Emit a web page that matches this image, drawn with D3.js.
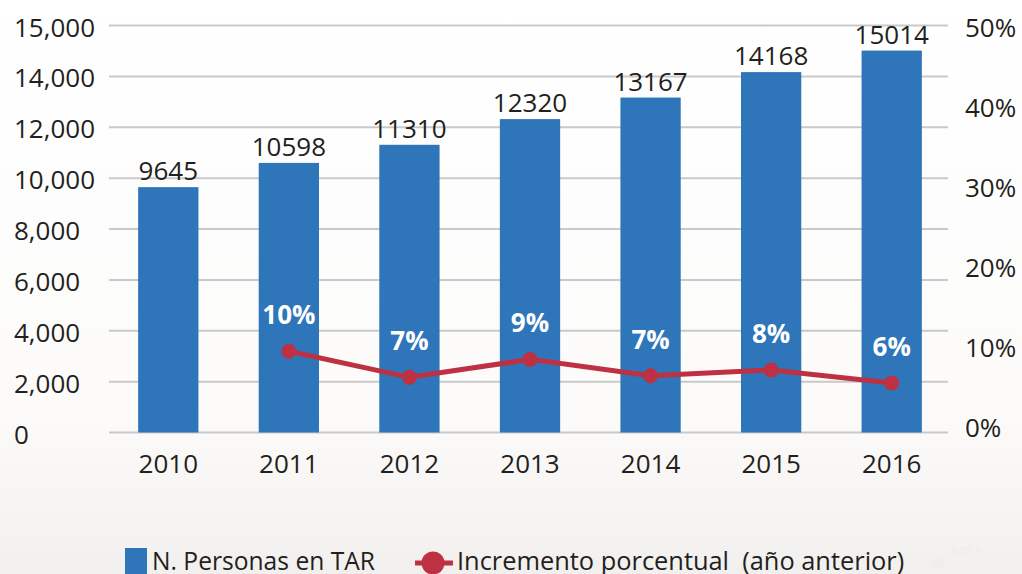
<!doctype html>
<html lang="es">
<head>
<meta charset="utf-8">
<title>N. Personas en TAR</title>
<script src="https://cdnjs.cloudflare.com/ajax/libs/d3/7.8.5/d3.min.js"></script>
<style>
  body { margin: 0; background: #fff; }
  svg text { font-family: "Open Sans", sans-serif; fill: #231f20; }
</style>
</head>
<body>
<svg width="1022" height="574" id="svg"></svg>
<script>
// data
var years = ['2010','2011','2012','2013','2014','2015','2016'];
var personas = [9645, 10598, 11310, 12320, 13167, 14168, 15014];
var incYears = ['2011','2012','2013','2014','2015','2016'];
var incremento = [9.9, 6.7, 8.9, 6.9, 7.6, 6.0];
var incLabels = ['10%','7%','9%','7%','8%','6%'];
var leftTicks = [0, 2000, 4000, 6000, 8000, 10000, 12000, 14000, 16000];
var leftTickLabels = ['0','2,000','4,000','6,000','8,000','10,000','12,000','14,000','15,000'];
var rightTicks = [0, 10, 20, 30, 40, 50];

var svg = d3.select('#svg');
var W = 1022, H = 574;

// faint background wash at the bottom
var defs = svg.append('defs');
var grad = defs.append('linearGradient').attr('id','bg').attr('x1',0).attr('y1',0).attr('x2',0).attr('y2',1);
grad.append('stop').attr('offset','0%').attr('stop-color','#ffffff');
grad.append('stop').attr('offset','72%').attr('stop-color','#fcfbfa');
grad.append('stop').attr('offset','100%').attr('stop-color','#f2f0ee');
svg.append('rect').attr('width',W).attr('height',H).attr('fill','url(#bg)');

var x = d3.scaleBand().domain(years).range([108, 952]).paddingInner(0.5).paddingOuter(0.25);
var y = d3.scaleLinear().domain([0, 16000]).range([432.5, 25.5]);
var yPct = d3.scaleLinear().domain([0, 50]).range([432, 24]);
var yPctLabel = d3.scaleLinear().domain([0, 50]).range([428, 28]);

// gridlines
svg.append('g').selectAll('line')
  .data(leftTicks)
  .enter()
  .append('line')
  .attr('x1',109).attr('x2',948)
  .attr('y1',function(d) { return y(d); })
  .attr('y2',function(d) { return y(d); })
  .attr('stroke','#c9c9c9')
  .attr('stroke-width',2);

// left axis labels
svg.append('g').selectAll('text')
  .data(leftTicks)
  .enter()
  .append('text')
  .attr('x',14)
  .attr('y',function(d) { return y(d) + 2; })
  .attr('dy','0.35em')
  .style('font-size','26px')
  .text(function(d,i) { return leftTickLabels[i]; });

// right axis labels
svg.append('g').selectAll('text')
  .data(rightTicks)
  .enter()
  .append('text')
  .attr('x',965)
  .attr('y',function(d) { return yPctLabel(d); })
  .attr('dy','0.35em')
  .style('font-size','26px')
  .text(function(d) { return d + '%'; });

// bars
svg.append('g').selectAll('rect')
  .data(personas)
  .enter()
  .append('rect')
  .attr('x',function(d,i) { return x(years[i]); })
  .attr('width',x.bandwidth())
  .attr('y',function(d) { return y(d); })
  .attr('height',function(d) { return y(0) - y(d); })
  .attr('fill','#2e75b9');

// bar value labels
svg.append('g').selectAll('text')
  .data(personas)
  .enter()
  .append('text')
  .attr('x',function(d,i) { return x(years[i]) + x.bandwidth()/2; })
  .attr('y',function(d) { return y(d) - 7; })
  .attr('text-anchor','middle')
  .style('font-size','26px')
  .text(function(d) { return d; });

// year labels
svg.append('g').selectAll('text')
  .data(years)
  .enter()
  .append('text')
  .attr('x',function(d) { return x(d) + x.bandwidth()/2; })
  .attr('y',473)
  .attr('text-anchor','middle')
  .style('font-size','26px')
  .text(function(d) { return d; });

// percentage line
var line = d3.line()
  .x(function(d,i) { return x(incYears[i]) + x.bandwidth()/2; })
  .y(function(d) { return yPct(d); });

svg.append('path')
  .datum(incremento)
  .attr('d',line)
  .attr('fill','none')
  .attr('stroke','#be3142')
  .attr('stroke-width',5);

svg.append('g').selectAll('circle')
  .data(incremento)
  .enter()
  .append('circle')
  .attr('cx',function(d,i) { return x(incYears[i]) + x.bandwidth()/2; })
  .attr('cy',function(d) { return yPct(d); })
  .attr('r',7.5)
  .attr('fill','#be3142');

svg.append('g').selectAll('text')
  .data(incremento)
  .enter()
  .append('text')
  .attr('x',function(d,i) { return x(incYears[i]) + x.bandwidth()/2; })
  .attr('y',function(d) { return yPct(d) - 27; })
  .attr('text-anchor','middle')
  .style('font-size','26px')
  .style('font-weight','bold')
  .style('fill','#ffffff')
  .text(function(d,i) { return incLabels[i]; });

// legend
var legend = svg.append('g');
legend.append('rect').attr('x',125).attr('y',548).attr('width',22).attr('height',30).attr('fill','#2e75b9');
legend.append('text').attr('x',152).attr('y',570).style('font-size','24.6px').text('N. Personas en TAR');
legend.append('line').attr('x1',415).attr('x2',453).attr('y1',563).attr('y2',563)
  .attr('stroke','#be3142').attr('stroke-width',5);
legend.append('circle').attr('cx',433).attr('cy',563).attr('r',11.5).attr('fill','#be3142');
legend.append('text').attr('x',457).attr('y',570).style('font-size','25.4px').attr('xml:space','preserve')
  .text('Incremento porcentual  (año anterior)');

// faint watermark bits
svg.append('circle').attr('cx',938).attr('cy',563).attr('r',6).attr('fill','#f0eeec');
svg.append('text').attr('x',950).attr('y',555).style('font-size','11px').style('fill','#eeeae8').text('2.05.1');
</script>
</body>
</html>
